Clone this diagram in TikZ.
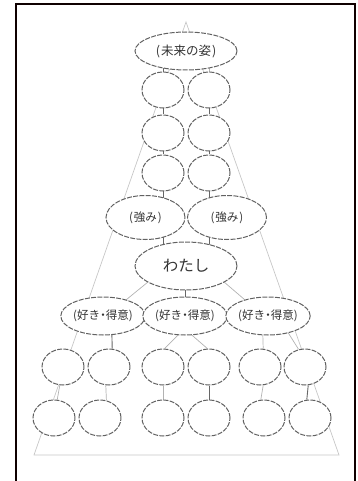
\documentclass[tikz,border=0pt]{standalone}
\usepackage{fontspec}
\setmainfont{Noto Sans CJK JP}
\usetikzlibrary{shapes.geometric,backgrounds}

\newcommand{\nakaguro}{\kern-2.8pt・\kern-2.8pt}

\begin{document}
\begin{tikzpicture}[x=1pt,y=-1pt,
  bub/.style={ellipse, draw=black!62, dash pattern=on 5pt off 1.3pt,
    line width=1pt, fill=white, inner sep=0pt, text=black!80},
  big/.style={bub, minimum width=102pt, minimum height=38pt,
    font=\fontsize{12.5}{12.5}\selectfont},
  dot/.style={bub, minimum width=42pt, minimum height=36pt},
  mid/.style={bub, minimum width=79pt, minimum height=44pt,
    font=\fontsize{11.5}{11.5}\selectfont},
  self/.style={bub, minimum width=102pt, minimum height=48pt,
    font=\fontsize{15.5}{15.5}\selectfont},
  like/.style={bub, minimum width=77pt, minimum height=38pt,
    font=\fontsize{11.5}{11.5}\selectfont},
  link/.style={draw=black!60, line width=0.9pt},
  faint/.style={draw=black!30, line width=0.7pt},
  tri/.style={draw=black!22, line width=0.7pt},
  frame/.style={draw=black!85!red!40!black, line width=1.8pt}]
\useasboundingbox (0,0) rectangle (358,481);

% outer frame, open at the bottom
\draw[frame] (16,484) -- (16,4) -- (355,4) -- (355,484);

% guide triangle corners
\coordinate (apex) at (186,22);
\coordinate (bl) at (34,455);
\coordinate (br) at (339,455);

% future self at the top
\node[big] (top) at (186,51) {(\kern1pt 未来の姿\kern1pt)};

% two columns of steps up to the future
\node[dot] (r1a) at (163,90) {};
\node[dot] (r1b) at (209,90) {};
\node[dot] (r2a) at (163,133) {};
\node[dot] (r2b) at (209,133) {};
\node[dot] (r3a) at (163,173) {};
\node[dot] (r3b) at (209,173) {};

% strengths
\node[mid] (s1) at (145.5,217.5) {(\kern1pt 強み\kern1pt)};
\node[mid] (s2) at (227,217.5) {(\kern1pt 強み\kern1pt)};

% the self
\node[self] (me) at (186,266) {わたし};

% likes and skills
\node[like] (k1) at (103,316) {(好き\nakaguro 得意)};
\node[like] (k2) at (185,316) {(好き\nakaguro 得意)};
\node[like] (k3) at (268,316) {(好き\nakaguro 得意)};

% roots, first row
\node[dot] (l1a) at (63,367) {};
\node[dot] (l1b) at (109,367) {};
\node[dot] (l1c) at (163,367) {};
\node[dot] (l1d) at (209,367) {};
\node[dot] (l1e) at (260,367) {};
\node[dot] (l1f) at (305,367) {};

% roots, second row
\node[dot] (l2a) at (54,418) {};
\node[dot] (l2b) at (100,418) {};
\node[dot] (l2c) at (163,418) {};
\node[dot] (l2d) at (209,418) {};
\node[dot] (l2e) at (264,418) {};
\node[dot] (l2f) at (310,418) {};

\begin{scope}[on background layer]
  \draw[tri] (apex) -- (bl) -- (br) -- cycle;

  % upper trunk
  \draw[link] (r1a.center) -- (r1a |- top.center);
  \draw[faint] (r1b.center) -- (r1b |- top.center);
  \draw[link] (r1a) -- (r2a);
  \draw[link] (r1b) -- (r2b);
  \draw[link] (r2a) -- (r3a);
  \draw[link] (r2b) -- (r3b);
  \draw[link] (r3a.center) -- (r3a |- me.center);
  \draw[link] (r3b.center) -- (r3b |- me.center);

  % from the self down
  \draw[faint] (me.203) -- (k1.35);
  \draw[link] (k2.center) -- (k2 |- me.center);
  \draw[faint] (me.337) -- (k3.145);

  % likes to roots
  \draw[link] (k1.295) -- (l1b.80);
  \draw[faint] (k2.250) -- (l1c.85);
  \draw[faint] (k2.290) -- (l1d.95);
  \draw[faint] (k3.255) -- (l1e.80);
  \draw[faint] (k3.320) -- (l1f.110);

  % roots, first row to second row
  \draw[faint] (l1a.260) -- (l2a.80);
  \draw[faint] (l1b.260) -- (l2b.70);
  \draw[faint] (l1c) -- (l2c);
  \draw[link] (l1d) -- (l2d);
  \draw[faint] (l1e.280) -- (l2e.100);
  \draw[link] (l1f.280) -- (l2f.100);
\end{scope}
\end{tikzpicture}
\end{document}
